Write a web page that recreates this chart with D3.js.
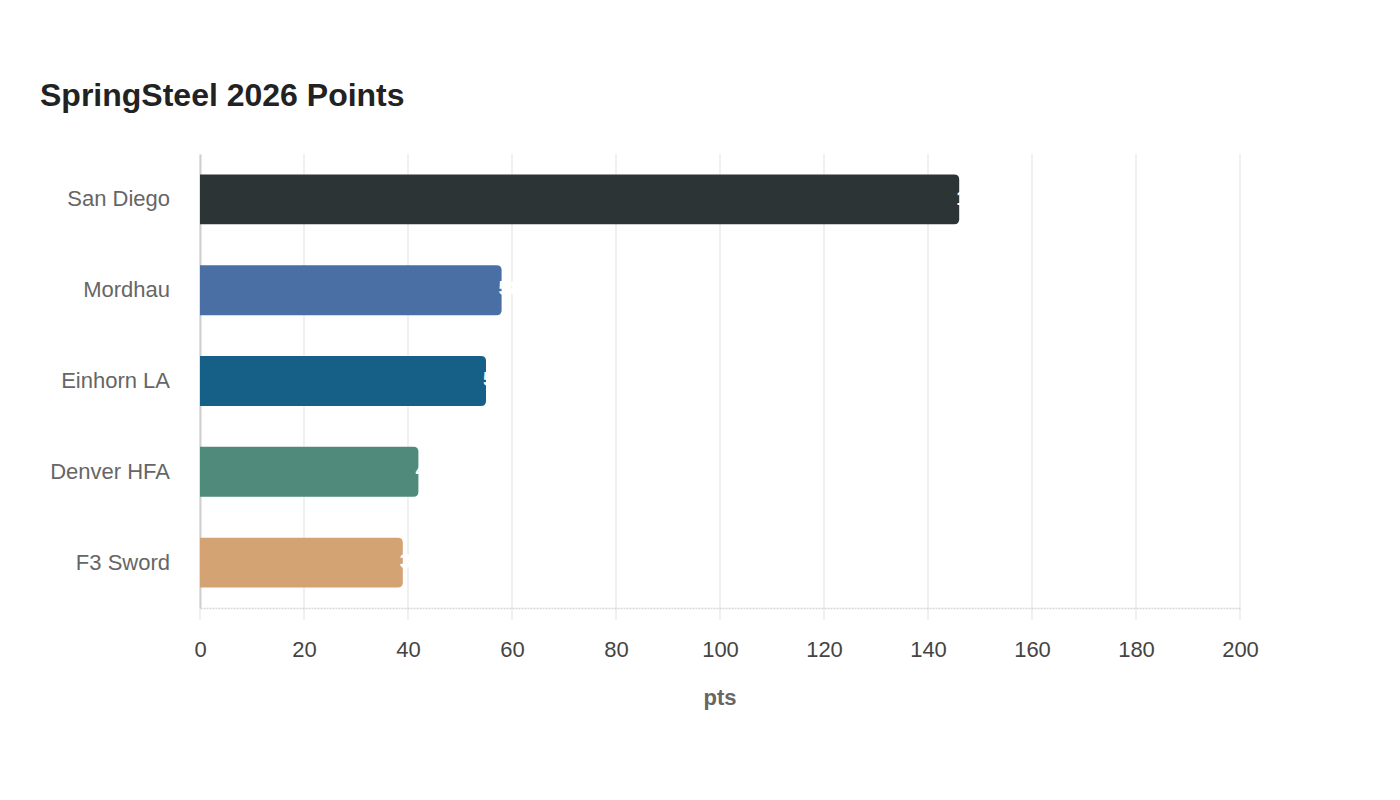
<!DOCTYPE html>
<html>
<head>
<meta charset="utf-8">
<script src="https://cdn.jsdelivr.net/npm/d3@7"></script>
<style>
  body { margin: 0; background: #fff; }
  text { font-family: "Liberation Sans", Arial, sans-serif; }
</style>
</head>
<body>
<div id="chart"></div>
<script>
/* Horizontal bar chart, SpringSteel 2026 points */

const clubs = ["San Diego", "Mordhau", "Einhorn LA", "Denver HFA", "F3 Sword"];
const points = [146, 58, 55, 42, 39];
const colors = ["#2d3436", "#4a6fa5", "#166088", "#4f8a7a", "#d4a373"];
const xTicks = [0, 20, 40, 60, 80, 100, 120, 140, 160, 180, 200];

const data = clubs.map((c, i) => ({ club: c, pts: points[i], color: colors[i] }));

const width = 1400,
      height = 800,
      margin = ({ top: 154, right: 160, bottom: 192, left: 200 });

let svg = d3.select("#chart")
    .append("svg")
    .attr("width", width)
    .attr("height", height);

let x = d3.scaleLinear()
    .domain([0, 200])
    .range([margin.left, width - margin.right]);

let y = d3.scaleBand()
    .domain(clubs)
    .range([margin.top, height - margin.bottom])
    .paddingInner(0.45)
    .paddingOuter(0.225);

// title
svg.append("text")
    .attr("x", 40)
    .attr("y", 106)
    .attr("font-size", 32)
    .attr("font-weight", "bold")
    .attr("fill", "#222")
    .text("SpringSteel 2026 Points");

// vertical grid lines
svg.append("g")
    .selectAll("line")
    .data(xTicks)
    .join("line")
    .attr("x1", d => x(d))
    .attr("x2", d => x(d))
    .attr("y1", margin.top)
    .attr("y2", height - margin.bottom + 12)
    .attr("stroke", "#ebebeb")
    .attr("stroke-width", 1.5);

// bottom axis
let xAxis = svg.append("g")
    .attr("transform", `translate(0,${height - margin.bottom})`)
    .call(d3.axisBottom(x).tickValues(xTicks).tickSize(0).tickPadding(33));
xAxis.select(".domain").attr("stroke", "#d6d6d6").attr("stroke-width", 1.5)
    .attr("stroke-dasharray", "2,1");
xAxis.selectAll("text").attr("font-size", 22).attr("fill", "#444")
    .attr("font-family", "Liberation Sans, Arial, sans-serif");

// left axis
let yAxis = svg.append("g")
    .attr("transform", `translate(${margin.left},0)`)
    .call(d3.axisLeft(y).tickSize(0).tickPadding(30));
yAxis.select(".domain").attr("stroke", "#cfcfcf").attr("stroke-width", 2);
yAxis.selectAll("text").attr("font-size", 22).attr("fill", "#666")
    .attr("font-family", "Liberation Sans, Arial, sans-serif");

// bars, rounded on the right end only
const r = 5;
function barPath(d) {
    let x0 = x(0), x1 = x(d.pts), y0 = y(d.club), h = y.bandwidth();
    return `M${x0},${y0} H${x1 - r} Q${x1},${y0} ${x1},${y0 + r} V${y0 + h - r} Q${x1},${y0 + h} ${x1 - r},${y0 + h} H${x0} Z`;
}

let bar = svg.selectAll(".bar")
    .data(data)
    .join("g")
    .attr("class", "bar");

bar.append("path")
    .attr("d", barPath)
    .attr("fill", d => d.color);

bar.append("text")
    .text(d => d.pts)
    .attr("x", d => x(d.pts) - 3)
    .attr("y", d => y(d.club) + y.bandwidth() / 2)
    .attr("dominant-baseline", "middle")
    .attr("font-size", 20)
    .attr("font-weight", "bold")
    .attr("fill", "#fff");

// axis title
svg.append("text")
    .attr("x", (x(0) + x(200)) / 2)
    .attr("y", 705)
    .attr("text-anchor", "middle")
    .attr("font-size", 22)
    .attr("font-weight", "bold")
    .attr("fill", "#666")
    .text("pts");
</script>
</body>
</html>
